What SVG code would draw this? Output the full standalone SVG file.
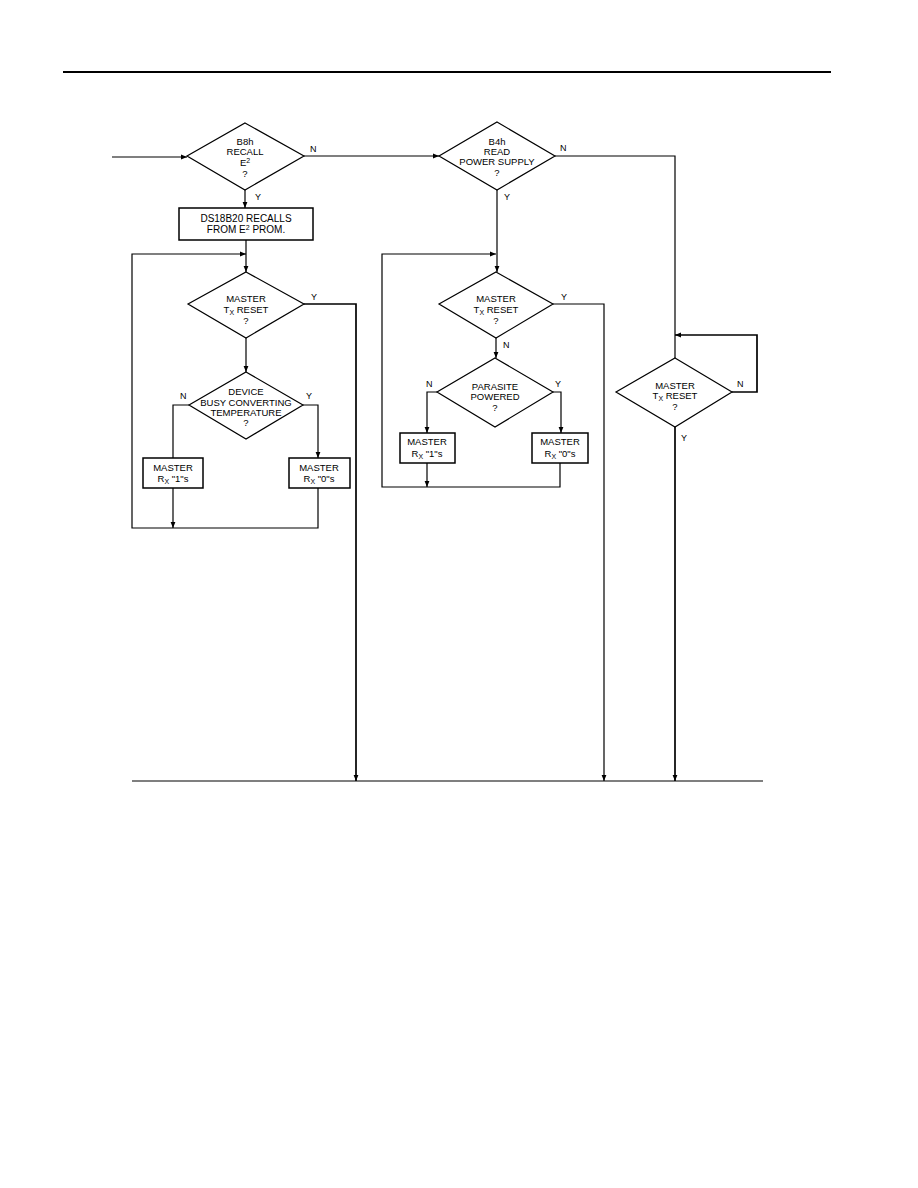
<svg xmlns="http://www.w3.org/2000/svg" width="918" height="1188" viewBox="0 0 918 1188">
<style>
.sh{fill:#fff;stroke:#000;stroke-width:1.2}
.bx{fill:#fff;stroke:#000;stroke-width:1.5}
.ln{fill:none;stroke:#000;stroke-width:1.2}
.hv{fill:none;stroke:#000;stroke-width:1.7}
text{font-family:"Liberation Sans",Arial,sans-serif;font-size:9.5px;fill:#000;text-anchor:middle}
.bt{font-size:10px}
.lb{font-size:9px;text-anchor:start}
.sb{font-size:7px}
</style>
<defs>
<marker id="ah" viewBox="0 0 10 10" refX="10" refY="5" markerWidth="7" markerHeight="6" markerUnits="userSpaceOnUse" orient="auto"><path d="M0,1 L10,5 L0,9 z" fill="#000"/></marker>
</defs>
<rect width="918" height="1188" fill="#fff"/>
<line x1="63" y1="72" x2="831" y2="72" stroke="#000" stroke-width="2"/>

<g id="connectors">
<path class="ln" d="M112,157 H187" marker-end="url(#ah)"/>
<path class="ln" d="M304,156 H439" marker-end="url(#ah)"/>
<path class="ln" d="M245,190 V208" marker-end="url(#ah)"/>
<path class="ln" d="M246,240 V272" marker-end="url(#ah)"/>
<path class="ln" d="M318,488 V528 H132 V254 H246" marker-end="url(#ah)"/>
<path class="hv" d="M304,304 H356 V781" marker-end="url(#ah)"/>
<path class="ln" d="M246,338 V372" marker-end="url(#ah)"/>
<path class="ln" d="M189,405 H173 V458"/>
<path class="ln" d="M303,405 H318 V458" marker-end="url(#ah)"/>
<path class="ln" d="M173,488 V528" marker-end="url(#ah)"/>
<path class="ln" d="M555,156 H675 V358"/>
<path class="ln" d="M497,190 V272" marker-end="url(#ah)"/>
<path class="ln" d="M560,463 V487 H382 V254 H496" marker-end="url(#ah)"/>
<path class="ln" d="M553,304 H604 V781" marker-end="url(#ah)"/>
<path class="ln" d="M496,338 V358" marker-end="url(#ah)"/>
<path class="ln" d="M437,392 H427 V433" marker-end="url(#ah)"/>
<path class="ln" d="M553,392 H561 V433" marker-end="url(#ah)"/>
<path class="ln" d="M427,463 V487" marker-end="url(#ah)"/>
<path class="hv" d="M732,392 H757 V335 H675" marker-end="url(#ah)"/>
<path class="hv" d="M675,427 V781" marker-end="url(#ah)"/>
<path class="ln" d="M132,781 H763"/>
<text class="lb" x="310" y="152">N</text>
<text class="lb" x="255" y="200">Y</text>
<text class="lb" x="311" y="300">Y</text>
<text class="lb" x="180" y="399">N</text>
<text class="lb" x="306" y="399">Y</text>
<text class="lb" x="560" y="151">N</text>
<text class="lb" x="504" y="200">Y</text>
<text class="lb" x="561" y="300">Y</text>
<text class="lb" x="503" y="348">N</text>
<text class="lb" x="426" y="387">N</text>
<text class="lb" x="555" y="387">Y</text>
<text class="lb" x="737" y="387">N</text>
<text class="lb" x="681" y="441">Y</text>
</g>

<g id="recall">
<polygon class="sh" points="245,123 304,156 245,190 187,156"/>
<text x="245" y="145">B8h</text>
<text x="245" y="155">RECALL</text>
<text x="245" y="166">E<tspan class="sb" dy="-3">2</tspan></text>
<text x="245" y="177">?</text>
</g>

<g id="recallbox">
<rect class="bx" x="179" y="208" width="134" height="32"/>
<text class="bt" x="246" y="222">DS18B20 RECALLS</text>
<text class="bt" x="246" y="233">FROM E<tspan class="sb" dy="-3">2</tspan><tspan dy="3"> PROM.</tspan></text>
</g>

<g id="reset1">
<polygon class="sh" points="246,272 304,304 246,338 188,304"/>
<text x="246" y="302">MASTER</text>
<text x="246" y="313">T<tspan class="sb" dy="2">X</tspan><tspan dy="-2"> RESET</tspan></text>
<text x="246" y="324">?</text>
</g>

<g id="busy">
<polygon class="sh" points="246,372 303,405 246,439 189,405"/>
<text x="246" y="395">DEVICE</text>
<text x="246" y="406">BUSY CONVERTING</text>
<text x="246" y="416">TEMPERATURE</text>
<text x="246" y="426">?</text>
</g>

<g id="rx1a">
<rect class="bx" x="143" y="458" width="60" height="30"/>
<text x="173" y="471">MASTER</text>
<text x="173" y="482">R<tspan class="sb" dy="2">X</tspan><tspan dy="-2"> "1"s</tspan></text>
</g>

<g id="rx0a">
<rect class="bx" x="289" y="458" width="61" height="30"/>
<text x="319" y="471">MASTER</text>
<text x="319" y="482">R<tspan class="sb" dy="2">X</tspan><tspan dy="-2"> "0"s</tspan></text>
</g>

<g id="readpower">
<polygon class="sh" points="497,122 555,156 497,190 439,156"/>
<text x="497" y="145">B4h</text>
<text x="497" y="155">READ</text>
<text x="497" y="165">POWER SUPPLY</text>
<text x="497" y="176">?</text>
</g>

<g id="reset2">
<polygon class="sh" points="496,272 553,304 496,338 439,304"/>
<text x="496" y="302">MASTER</text>
<text x="496" y="313">T<tspan class="sb" dy="2">X</tspan><tspan dy="-2"> RESET</tspan></text>
<text x="496" y="324">?</text>
</g>

<g id="parasite">
<polygon class="sh" points="495,358 553,392 495,427 437,392"/>
<text x="495" y="390">PARASITE</text>
<text x="495" y="400">POWERED</text>
<text x="495" y="411">?</text>
</g>

<g id="rx1b">
<rect class="bx" x="400" y="433" width="55" height="30"/>
<text x="427" y="445">MASTER</text>
<text x="427" y="457">R<tspan class="sb" dy="2">X</tspan><tspan dy="-2"> "1"s</tspan></text>
</g>

<g id="rx0b">
<rect class="bx" x="532" y="433" width="56" height="30"/>
<text x="560" y="445">MASTER</text>
<text x="560" y="457">R<tspan class="sb" dy="2">X</tspan><tspan dy="-2"> "0"s</tspan></text>
</g>

<g id="reset3">
<polygon class="sh" points="675,358 732,392 675,427 616,392"/>
<text x="675" y="389">MASTER</text>
<text x="675" y="399">T<tspan class="sb" dy="2">X</tspan><tspan dy="-2"> RESET</tspan></text>
<text x="675" y="410">?</text>
</g>
</svg>
